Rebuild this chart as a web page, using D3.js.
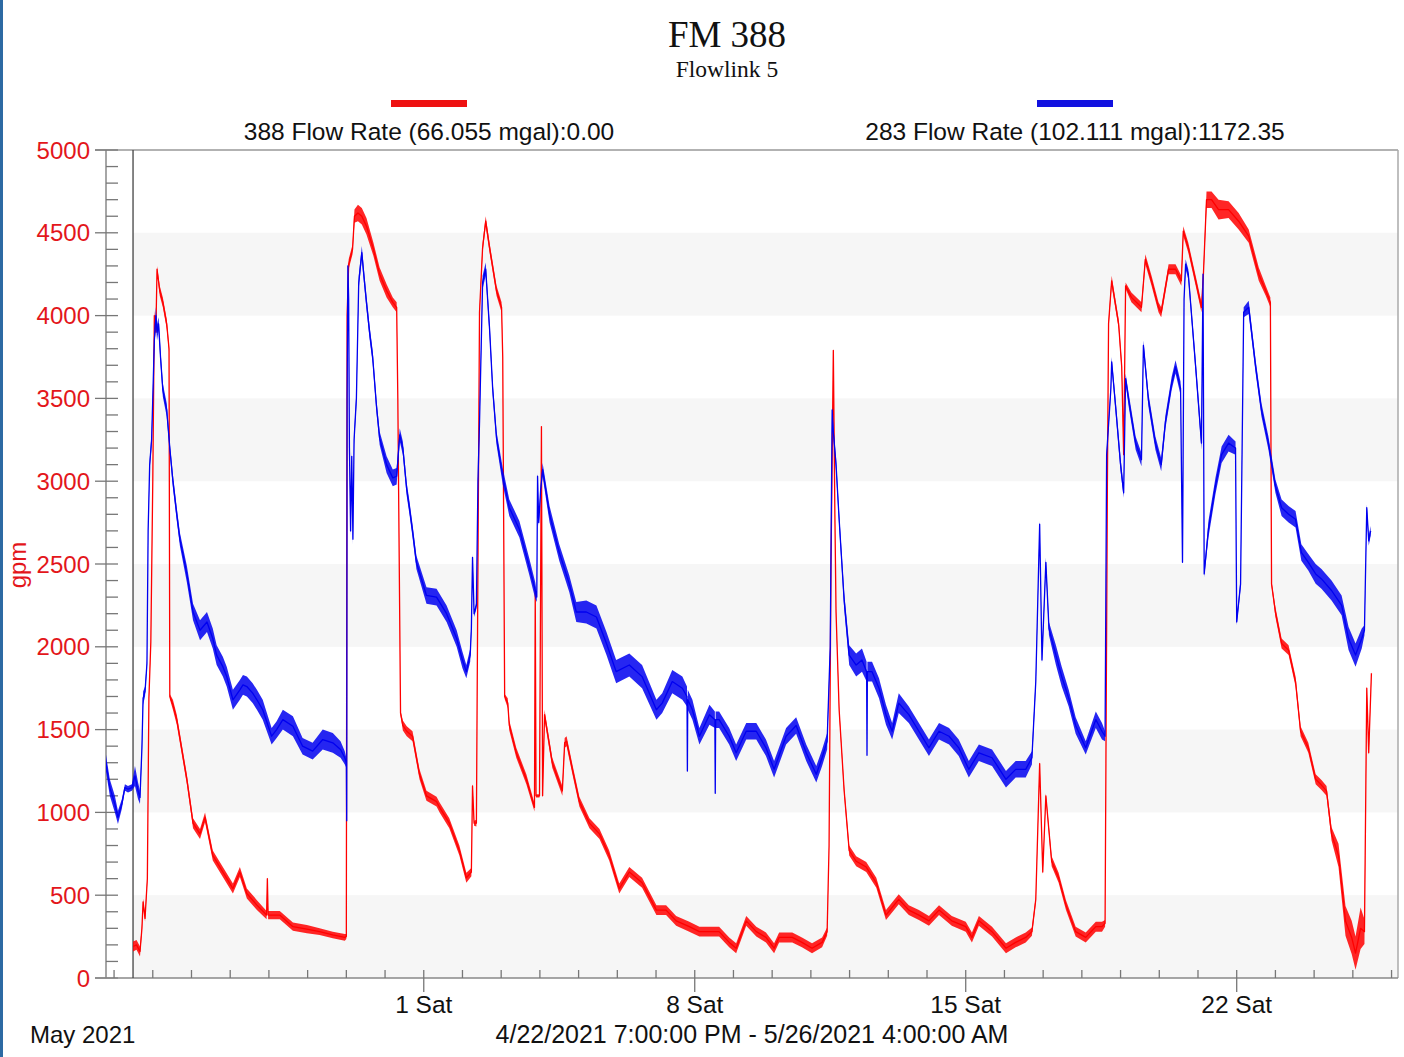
<!DOCTYPE html>
<html>
<head>
<meta charset="utf-8">
<script src="https://cdn.jsdelivr.net/npm/d3@7"></script>
<style>
  html, body { margin: 0; padding: 0; background: #fff; }
  svg { display: block; }
</style>
</head>
<body>
<svg id="chart" width="1404" height="1057"></svg>
<script>
// ---------------- DATA ----------------
// Time is given as a day number counted from 1 April 2021 (31 = 1 May 2021).
const rangeStartDay = 22 + 19 / 24;   // 4/22/2021 7:00 PM
const rangeEndDay = 56 + 4 / 24;      // 5/26/2021 4:00 AM
const cursorDay = 23.49;

const titleText = "FM 388";
const subtitleText = "Flowlink 5";
const seriesNames = ["388 Flow Rate (66.055 mgal):0.00", "283 Flow Rate (102.111 mgal):1172.35"];
const yAxisLabel = "gpm";
const monthLabel = "May 2021";
const rangeLabel = "4/22/2021 7:00:00 PM - 5/26/2021 4:00:00 AM";

const yMajorTicks = [0, 500, 1000, 1500, 2000, 2500, 3000, 3500, 4000, 4500, 5000];
const yBands = [[0, 500], [1000, 1500], [2000, 2500], [3000, 3500], [4000, 4500]];
const xMajorDays = [31, 38, 45, 52];
const xMajorLabels = ["1 Sat", "8 Sat", "15 Sat", "22 Sat"];

// [day, flow gpm, noise spread gpm]
const redSeries = [
[23.49,190,60],[23.58,200,60],[23.67,160,60],[23.72,300,40],[23.75,460,40],[23.80,360,40],
[23.86,600,30],[23.90,1690,30],[23.95,2030,30],[24.00,3000,30],[24.04,4000,60],[24.08,3900,60],
[24.11,4280,40],[24.18,4150,60],[24.26,4080,60],[24.36,3950,60],[24.42,3800,40],[24.44,1700,30],
[24.52,1650,60],[24.62,1560,60],[24.88,1200,60],[25.04,935,60],[25.22,870,60],[25.35,970,60],
[25.55,740,60],[25.81,640,60],[26.07,540,60],[26.25,640,60],[26.43,510,60],[26.69,440,60],
[26.94,380,50],[26.96,600,20],[26.98,380,50],[27.28,380,50],[27.62,310,50],[27.98,295,50],
[28.31,280,40],[28.65,260,40],[28.96,245,40],[29.00,250,30],[29.02,4000,30],[29.06,4310,60],
[29.16,4400,60],[29.21,4600,80],[29.30,4620,100],[29.40,4600,100],[29.52,4540,100],[29.70,4400,80],
[29.86,4250,80],[30.04,4150,80],[30.20,4080,60],[30.30,4050,60],[30.33,3500,30],[30.40,1600,30],
[30.46,1525,60],[30.56,1490,60],[30.71,1460,60],[30.89,1230,60],[31.07,1100,60],[31.33,1065,60],
[31.41,1030,60],[31.66,935,60],[31.92,770,60],[32.10,605,60],[32.23,640,50],[32.26,1160,30],
[32.30,935,30],[32.36,935,40],[32.40,2500,30],[32.44,4020,40],[32.52,4410,60],[32.60,4570,60],
[32.70,4410,60],[32.88,4150,60],[33.01,4050,60],[33.04,3750,40],[33.09,1700,30],[33.17,1660,60],
[33.21,1525,60],[33.39,1360,60],[33.65,1200,60],[33.86,1030,50],[33.88,2340,20],[33.90,1100,20],
[33.99,1100,20],[34.04,3330,20],[34.07,1100,20],[34.12,1590,60],[34.32,1300,60],[34.58,1130,60],
[34.64,1420,60],[34.69,1430,60],[34.84,1260,60],[35.02,1065,60],[35.28,935,60],[35.54,870,60],
[35.79,740,60],[36.05,540,60],[36.31,640,60],[36.64,575,60],[37.01,410,60],[37.26,410,60],
[37.52,345,60],[37.86,310,60],[38.12,280,60],[38.38,280,60],[38.63,280,60],[38.89,215,60],
[39.07,180,60],[39.33,345,60],[39.59,280,60],[39.84,245,60],[40.05,180,60],[40.18,245,60],
[40.52,245,60],[40.77,215,60],[41.03,180,60],[41.29,215,60],[41.42,280,50],[41.47,800,20],
[41.52,2500,20],[41.58,3790,20],[41.62,2800,20],[41.65,2210,40],[41.73,1620,40],[41.86,1130,50],
[41.99,770,60],[42.17,705,60],[42.43,670,60],[42.69,575,60],[42.94,380,60],[43.27,475,60],
[43.53,410,60],[43.79,380,60],[44.05,345,60],[44.31,410,60],[44.64,345,60],[45.00,310,60],
[45.16,245,60],[45.34,345,60],[45.68,280,60],[46.04,180,60],[46.29,215,60],[46.55,245,60],
[46.71,280,50],[46.81,475,40],[46.91,1295,30],[46.99,640,30],[47.07,1100,30],[47.22,705,60],
[47.40,605,60],[47.59,440,60],[47.84,280,60],[48.10,245,60],[48.36,310,60],[48.52,310,60],
[48.60,330,40],[48.66,3000,20],[48.69,3950,40],[48.77,4210,60],[48.95,3950,60],[49.03,3690,60],
[49.08,3160,40],[49.13,4180,40],[49.28,4110,60],[49.54,4050,60],[49.64,4340,60],[49.80,4210,60],
[49.98,4050,60],[50.05,4020,60],[50.24,4280,60],[50.42,4280,60],[50.57,4210,60],[50.62,4510,60],
[50.75,4410,60],[50.94,4210,60],[51.09,4050,60],[51.14,4250,60],[51.22,4700,100],[51.35,4700,100],
[51.53,4640,120],[51.79,4640,100],[52.05,4570,100],[52.31,4480,80],[52.57,4250,80],[52.75,4150,60],
[52.87,4080,60],[52.90,2380,30],[53.00,2210,60],[53.16,2020,60],[53.34,1980,60],[53.52,1790,60],
[53.65,1490,60],[53.85,1390,60],[54.04,1200,60],[54.19,1165,60],[54.32,1130,60],[54.45,870,80],
[54.63,740,140],[54.81,345,180],[54.97,245,200],[55.07,150,200],[55.20,300,250],[55.30,280,150],
[55.36,1750,30],[55.41,1360,30],[55.48,1840,30]
];

const blueSeries = [
[22.79,1300,100],[22.89,1150,100],[23.02,1050,100],[23.10,970,80],[23.20,1050,60],[23.28,1150,40],
[23.36,1140,40],[23.46,1150,40],[23.54,1220,120],[23.62,1130,100],[23.67,1090,80],[23.72,1390,60],
[23.75,1690,80],[23.80,1730,60],[23.85,1900,40],[23.88,2700,40],[23.92,3100,60],[23.97,3250,80],
[24.00,3500,80],[24.04,3850,100],[24.08,4000,100],[24.11,3900,100],[24.15,3950,80],[24.20,3750,80],
[24.26,3550,80],[24.36,3430,80],[24.44,3200,60],[24.52,3000,80],[24.62,2800,80],[24.70,2650,80],
[24.88,2440,100],[25.04,2210,100],[25.22,2100,120],[25.40,2150,120],[25.55,2050,120],[25.65,1950,120],
[25.81,1880,120],[25.91,1820,120],[26.07,1680,120],[26.25,1740,120],[26.33,1770,120],[26.43,1760,120],
[26.58,1720,120],[26.69,1680,120],[26.84,1620,120],[27.07,1460,100],[27.20,1500,100],[27.36,1560,120],
[27.62,1520,120],[27.87,1400,100],[28.13,1370,100],[28.39,1440,120],[28.65,1420,120],[28.85,1380,100],
[28.96,1330,80],[29.00,1300,60],[29.01,950,20],[29.02,3500,30],[29.04,4300,40],[29.06,4100,40],
[29.08,3200,40],[29.11,2700,60],[29.14,3150,60],[29.17,2650,60],[29.20,3250,60],[29.26,3500,80],
[29.32,4200,80],[29.40,4380,80],[29.45,4250,80],[29.52,4080,80],[29.60,3900,80],[29.68,3750,80],
[29.78,3450,80],[29.86,3260,80],[30.04,3100,100],[30.20,3020,100],[30.30,3030,100],[30.38,3280,80],
[30.46,3200,80],[30.56,2950,80],[30.63,2840,80],[30.71,2700,80],[30.81,2510,80],[31.07,2310,100],
[31.33,2300,100],[31.59,2200,100],[31.85,2050,100],[32.00,1920,100],[32.10,1850,80],[32.20,1950,80],
[32.23,2110,60],[32.26,2540,40],[32.30,2200,40],[32.36,2250,40],[32.40,3000,40],[32.44,3350,60],
[32.52,4200,80],[32.60,4280,80],[32.70,3920,80],[32.78,3560,80],[32.88,3260,80],[33.04,3030,100],
[33.21,2840,100],[33.47,2710,100],[33.73,2480,100],[33.88,2340,100],[33.92,2300,60],[33.94,3030,40],
[33.97,2750,40],[34.02,2950,40],[34.07,3070,80],[34.25,2800,100],[34.50,2570,100],[34.76,2380,100],
[34.94,2210,120],[35.20,2210,140],[35.46,2180,140],[35.72,2020,140],[35.97,1850,140],[36.31,1890,140],
[36.64,1820,140],[37.01,1620,120],[37.16,1660,120],[37.42,1790,140],[37.68,1750,140],[37.80,1700,120],
[37.81,1250,20],[37.82,1680,120],[37.94,1620,120],[38.12,1460,100],[38.38,1590,120],[38.52,1560,100],
[38.53,1115,20],[38.54,1560,100],[38.63,1560,100],[38.89,1460,100],[39.07,1360,100],[39.33,1490,100],
[39.59,1490,100],[39.84,1390,100],[40.05,1260,100],[40.36,1460,100],[40.62,1525,100],[40.88,1360,100],
[41.14,1230,100],[41.29,1330,100],[41.42,1430,100],[41.50,2000,40],[41.55,3430,40],[41.58,3300,60],
[41.65,3100,80],[41.73,2770,80],[41.86,2280,100],[41.99,1950,120],[42.17,1890,140],[42.32,1920,140],
[42.44,1850,120],[42.45,1345,20],[42.46,1850,120],[42.58,1850,120],[42.76,1750,120],[42.94,1590,120],
[43.10,1490,100],[43.27,1660,120],[43.53,1590,100],[43.79,1490,100],[44.05,1390,100],[44.31,1490,100],
[44.57,1460,100],[44.82,1390,100],[45.08,1260,100],[45.34,1360,100],[45.68,1330,100],[46.04,1200,100],
[46.29,1260,100],[46.55,1260,100],[46.71,1330,80],[46.81,1790,60],[46.91,2740,40],[46.97,1920,40],
[47.07,2510,60],[47.15,2110,80],[47.33,1950,120],[47.48,1820,120],[47.66,1690,100],[47.84,1525,100],
[48.10,1390,80],[48.36,1560,100],[48.52,1490,100],[48.60,1460,60],[48.64,3160,40],[48.75,3560,60],
[48.77,3720,60],[48.88,3430,80],[49.00,3100,80],[49.08,2930,60],[49.13,3620,60],[49.21,3490,80],
[49.39,3230,80],[49.54,3130,80],[49.59,3820,60],[49.72,3490,80],[49.90,3230,80],[50.05,3100,80],
[50.16,3360,80],[50.32,3590,80],[50.42,3690,80],[50.55,3560,80],[50.60,2510,30],[50.64,4100,30],
[50.68,4310,60],[50.75,4250,60],[50.94,3690,80],[51.09,3230,80],[51.13,4250,20],[51.16,2440,40],
[51.27,2710,100],[51.45,2970,100],[51.61,3160,100],[51.79,3230,100],[51.97,3200,80],[52.00,2150,40],
[52.10,2380,60],[52.18,4020,60],[52.31,4050,80],[52.49,3690,80],[52.64,3430,80],[52.82,3230,80],
[53.00,2970,80],[53.16,2840,100],[53.34,2800,100],[53.52,2770,100],[53.67,2570,100],[53.85,2510,100],
[54.04,2440,120],[54.19,2410,120],[54.45,2340,120],[54.71,2250,120],[54.89,2050,140],[55.07,1950,140],
[55.23,2050,120],[55.30,2100,60],[55.36,2840,40],[55.41,2640,60],[55.46,2700,60]
];

// ---------------- DRAWING ----------------
const dayToDate = d => new Date(Date.UTC(2021, 3, 1) + (d - 1) * 864e5);

const svg = d3.select("#chart");
const W = 1404, H = 1057;
const m = { left: 106, right: 1398, top: 150, bottom: 978 };

const x = d3.scaleUtc()
  .domain([dayToDate(rangeStartDay), dayToDate(rangeEndDay)])
  .range([m.left, m.right]);
const y = d3.scaleLinear().domain([0, 5000]).range([m.bottom, m.top]);

const RED = "#ff0000", BLUE = "#0000f0", LABEL_RED = "#e3161b";
const SANS = "'Liberation Sans', Arial, sans-serif";
const SERIF = "'Liberation Serif', 'Times New Roman', serif";
const FS = 24.5;

svg.append("rect").attr("width", W).attr("height", H).attr("fill", "#ffffff");
// screen edge strip
svg.append("rect").attr("x", 0).attr("y", 0).attr("width", 3).attr("height", H).attr("fill", "#2d6aa3");

// bands
const xCursor = x(dayToDate(cursorDay));
svg.append("g").selectAll("rect").data(yBands).join("rect")
  .attr("x", xCursor).attr("width", m.right - xCursor)
  .attr("y", d => y(d[1])).attr("height", d => y(d[0]) - y(d[1]))
  .attr("fill", "#f6f6f6");

// Titles
svg.append("text").attr("x", 727).attr("y", 47).attr("text-anchor", "middle")
  .attr("font-family", SERIF).attr("font-size", 37).attr("fill", "#111").text(titleText);
svg.append("text").attr("x", 727).attr("y", 77).attr("text-anchor", "middle")
  .attr("font-family", SERIF).attr("font-size", 23.5).attr("fill", "#111").text(subtitleText);

// Legend
const legendX = [429, 1075];
const legendColors = ["#ee1111", "#1111e0"];
seriesNames.forEach((name, i) => {
  svg.append("rect").attr("x", legendX[i] - 38).attr("y", 100).attr("width", 76).attr("height", 7)
    .attr("fill", legendColors[i]);
  svg.append("text").attr("x", legendX[i]).attr("y", 140).attr("text-anchor", "middle")
    .attr("font-family", SANS).attr("font-size", FS).attr("fill", "#111").text(name);
});

// Frame
svg.append("line").attr("x1", 95).attr("x2", m.right).attr("y1", m.top).attr("y2", m.top)
  .attr("stroke", "#999").attr("stroke-width", 1.5);
svg.append("line").attr("x1", m.right).attr("x2", m.right).attr("y1", m.top).attr("y2", m.bottom)
  .attr("stroke", "#aaa").attr("stroke-width", 1.5);

// Y axis
const gy = svg.append("g");
gy.append("line").attr("x1", m.left).attr("x2", m.left).attr("y1", m.top).attr("y2", m.bottom)
  .attr("stroke", "#888").attr("stroke-width", 1.5);
d3.range(0, 5001, 100).forEach(v => {
  const major = v % 500 === 0;
  gy.append("line").attr("x1", major ? 95 : m.left).attr("x2", 118)
    .attr("y1", y(v)).attr("y2", y(v)).attr("stroke", "#777").attr("stroke-width", 1.3);
});
gy.selectAll("text.yl").data(yMajorTicks).join("text")
  .attr("x", 90).attr("y", d => y(d)).attr("dy", "0.36em").attr("text-anchor", "end")
  .attr("font-family", SANS).attr("font-size", 24).attr("fill", LABEL_RED).text(d => d);
svg.append("text").attr("transform", `translate(26,${565}) rotate(-90)`)
  .attr("text-anchor", "middle").attr("font-family", SANS).attr("font-size", 24)
  .attr("fill", LABEL_RED).text(yAxisLabel);

// X axis
const gx = svg.append("g");
gx.append("line").attr("x1", 95).attr("x2", m.right).attr("y1", m.bottom).attr("y2", m.bottom)
  .attr("stroke", "#888").attr("stroke-width", 1.5);
const days = d3.utcDay.range(dayToDate(rangeStartDay), dayToDate(rangeEndDay));
gx.selectAll("line.minor").data(days).join("line")
  .attr("x1", d => x(d)).attr("x2", d => x(d)).attr("y1", m.bottom - 8).attr("y2", m.bottom)
  .attr("stroke", "#777").attr("stroke-width", 1.3);
xMajorDays.forEach((d, i) => {
  const px = x(dayToDate(d));
  gx.append("line").attr("x1", px).attr("x2", px).attr("y1", m.bottom).attr("y2", m.bottom + 14)
    .attr("stroke", "#777").attr("stroke-width", 1.3);
  gx.append("text").attr("x", px).attr("y", 1013).attr("text-anchor", "middle")
    .attr("font-family", SANS).attr("font-size", FS).attr("fill", "#111").text(xMajorLabels[i]);
});
svg.append("text").attr("x", 30).attr("y", 1043).attr("font-family", SANS).attr("font-size", 24)
  .attr("fill", "#111").text(monthLabel);
svg.append("text").attr("x", 752).attr("y", 1043).attr("text-anchor", "middle")
  .attr("font-family", SANS).attr("font-size", 25).attr("fill", "#111").text(rangeLabel);

// Cursor line
svg.append("line").attr("x1", xCursor).attr("x2", xCursor).attr("y1", m.top).attr("y2", m.bottom)
  .attr("stroke", "#444").attr("stroke-width", 1.3);

// Series
svg.append("clipPath").attr("id", "plotclip").append("rect")
  .attr("x", m.left).attr("y", m.top).attr("width", m.right - m.left).attr("height", m.bottom - m.top);
const plot = svg.append("g").attr("clip-path", "url(#plotclip)");

function drawSeries(data, color) {
  const area = d3.area()
    .x(d => x(dayToDate(d[0])))
    .y0(d => y(d[1] - d[2] / 2))
    .y1(d => y(d[1] + d[2] / 2));
  const line = d3.line().x(d => x(dayToDate(d[0]))).y(d => y(d[1]));
  plot.append("path").datum(data).attr("d", area).attr("fill", color).attr("fill-opacity", 0.85);
  plot.append("path").datum(data).attr("d", line).attr("fill", "none")
    .attr("stroke", color).attr("stroke-width", 1.3).attr("stroke-linejoin", "round");
}
drawSeries(redSeries, RED);
drawSeries(blueSeries, BLUE);
</script>
</body>
</html>
